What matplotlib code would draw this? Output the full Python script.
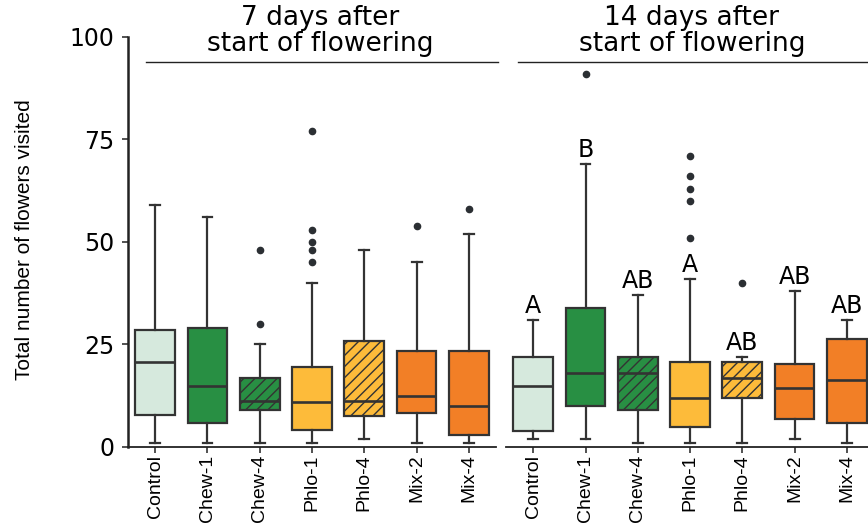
import matplotlib
matplotlib.use("Agg")
import matplotlib.pyplot as plt
from matplotlib import font_manager

# ---- data -------------------------------------------------------------
groups = ["Control", "Chew-1", "Chew-4", "Phlo-1", "Phlo-4", "Mix-2", "Mix-4"]
fill_colors = ["#d6e9dd", "#288f43", "#288f43", "#fdbb3a", "#fdbb3a", "#f27f26", "#f27f26"]
hatched = [False, False, True, False, True, False, False]

# 7 days after start of flowering
d7_whislo = [1, 1, 1, 1, 2, 1, 1]
d7_q1 = [7.9, 5.9, 9.0, 4.2, 7.6, 8.2, 3.0]
d7_med = [20.8, 14.9, 11.3, 10.9, 11.1, 12.4, 10.0]
d7_q3 = [28.5, 28.9, 16.9, 19.6, 25.9, 23.3, 23.3]
d7_whishi = [59, 56, 25, 40, 48, 45, 52]
d7_fliers = [[], [], [30, 48], [45, 48, 50, 53, 77], [], [54], [58]]

# 14 days after start of flowering
d14_whislo = [2, 2, 1, 1, 1, 2, 1]
d14_q1 = [4.0, 10.1, 9.0, 4.9, 11.9, 6.9, 5.9]
d14_med = [14.8, 18.0, 18.1, 11.9, 16.9, 14.5, 16.4]
d14_q3 = [21.9, 33.9, 21.9, 20.8, 20.8, 20.2, 26.3]
d14_whishi = [31, 69, 37, 41, 22, 38, 31]
d14_fliers = [[], [91], [], [51, 60, 63, 66, 71], [40], [], []]
d14_letters = ["A", "B", "AB", "A", "AB", "AB", "AB"]

panel_titles = ["7 days after\nstart of flowering", "14 days after\nstart of flowering"]
y_ticks = [0, 25, 50, 75, 100]
y_label = "Total number of flowers visited"

# ---- fonts ------------------------------------------------------------
available = {f.name for f in font_manager.fontManager.ttflist}
if "Liberation Sans Narrow" in available:
    narrow_family, narrow_size = "Liberation Sans Narrow", 16
else:
    narrow_family, narrow_size = "Liberation Sans", 14
wide_family = "DejaVu Sans"

edge = "#333333"
dot = "#2b2f33"

plt.rcParams["hatch.linewidth"] = 1.0
plt.rcParams["hatch.color"] = "black"

fig = plt.figure(figsize=(8.68, 5.25), dpi=100)
ax_left = fig.add_axes([0.1475, 0.1486, 0.424, 0.781])
ax_right = fig.add_axes([0.583, 0.1486, 0.424, 0.781])

positions = list(range(1, len(groups) + 1))


def draw_panel(ax, whislo, q1, med, q3, whishi, fliers):
    stats = [
        dict(whislo=a, q1=b, med=c, q3=d, whishi=e, fliers=f)
        for a, b, c, d, e, f in zip(whislo, q1, med, q3, whishi, fliers)
    ]
    bp = ax.bxp(
        stats,
        positions=positions,
        widths=0.76,
        capwidths=0.19,
        patch_artist=True,
        boxprops=dict(edgecolor=edge, linewidth=1.6),
        medianprops=dict(color=edge, linewidth=1.9),
        whiskerprops=dict(color=edge, linewidth=1.6),
        capprops=dict(color=edge, linewidth=1.6),
        flierprops=dict(marker="o", markerfacecolor=dot, markeredgecolor=dot,
                        markersize=4.5, linestyle="none"),
    )
    for patch, color, h in zip(bp["boxes"], fill_colors, hatched):
        patch.set_facecolor(color)
        if h:
            patch.set_hatch("///")
    for artist_list in bp.values():
        for a in artist_list:
            a.set_clip_on(False)

    ax.set_xlim(0.48, 7.52)
    ax.set_ylim(0, 100)
    ax.set_xticks(positions)
    ax.set_xticklabels(groups, rotation=90, family=narrow_family,
                       fontsize=narrow_size)
    ax.tick_params(axis="x", direction="out", length=4, width=1.2,
                   color=edge, pad=1.5)
    for side in ["top", "right"]:
        ax.spines[side].set_visible(False)
    ax.spines["bottom"].set_linewidth(1.3)
    ax.spines["bottom"].set_color("#222222")


draw_panel(ax_left, d7_whislo, d7_q1, d7_med, d7_q3, d7_whishi, d7_fliers)
draw_panel(ax_right, d14_whislo, d14_q1, d14_med, d14_q3, d14_whishi, d14_fliers)

# y axis on the left panel only
ax_left.set_yticks(y_ticks)
ax_left.set_yticklabels([str(t) for t in y_ticks], family=wide_family, fontsize=17)
ax_left.tick_params(axis="y", direction="out", length=4, width=1.2, color=edge, pad=6)
ax_left.spines["left"].set_linewidth(1.8)
ax_left.spines["left"].set_color("#222222")
ax_left.set_ylabel(y_label, family=narrow_family, fontsize=narrow_size + 1)
ax_left.yaxis.set_label_coords(-0.255, 0.505)

ax_right.spines["left"].set_visible(False)
ax_right.set_yticks([])

# significance letters above the upper whiskers
for x, top, letter in zip(positions, d14_whishi, d14_letters):
    ax_right.annotate(letter, xy=(x, top), xytext=(0, 5), textcoords="offset points",
                      ha="center", va="baseline", family=wide_family, fontsize=17,
                      color="black", annotation_clip=False)

# panel headers with a rule underneath
header_specs = [
    (ax_left, 0.522, 0.049, 1.005),
    (ax_right, 0.505, 0.033, 1.05),
]
for (ax, xc, x0, x1), title in zip(header_specs, panel_titles):
    ax.text(xc, 0.952, title, transform=ax.transAxes, ha="center", va="bottom",
            family=wide_family, fontsize=19, linespacing=0.98, color="black")
    ax.plot([x0, x1], [0.939, 0.939], transform=ax.transAxes, color="#222222",
            linewidth=1.0, clip_on=False)

fig.savefig("out.png", dpi=100)
